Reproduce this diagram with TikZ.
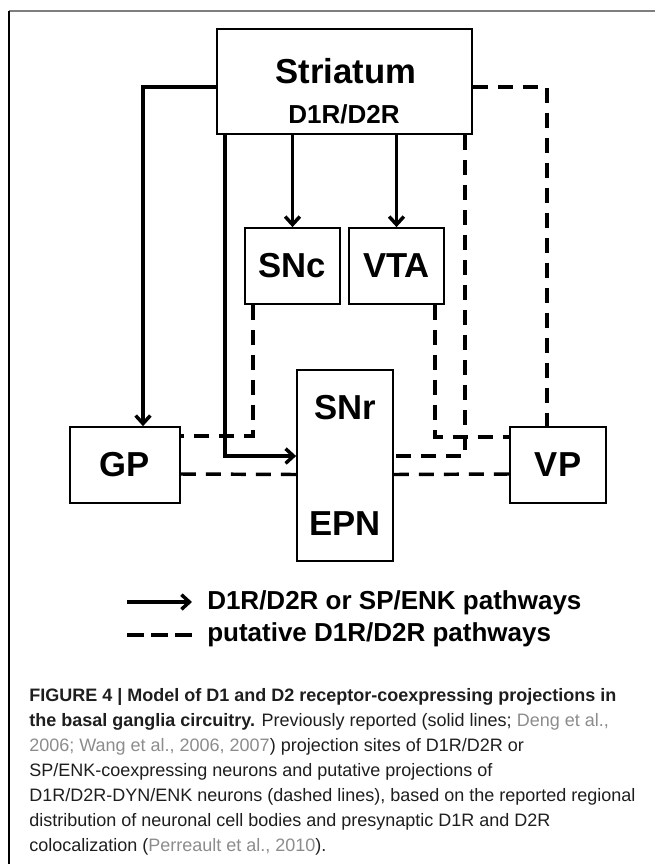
\documentclass[tikz,border=0pt]{standalone}
\usepackage{fontspec}
\setmainfont{Liberation Sans}
\usetikzlibrary{arrows.meta, positioning}

\definecolor{framegray}{HTML}{7F7F7F}
\definecolor{citegray}{HTML}{8C8C8C}
\definecolor{captext}{HTML}{1E1E1E}

\newcommand\boxfont{\fontsize{26}{31}\selectfont\bfseries}
\newcommand\subfont{\fontsize{19.5}{23}\selectfont\bfseries}
\newcommand\capfont{\fontsize{13.5}{18.75}\selectfont}
\newcommand\citeref[1]{\textcolor{citegray}{#1}}

\begin{document}
\begin{tikzpicture}[x=0.75pt,y=-0.75pt,
  >={Straight Barb[length=6pt,width=11pt]},
  region/.style={draw,line width=1.3pt,font=\boxfont,inner sep=0pt},
  proj/.style={line width=2.6pt},
  putative/.style={line width=2.6pt,dash pattern=on 11.25pt off 7.5pt},
  lbl/.style={inner sep=0pt,anchor=base}]

   \useasboundingbox (0,0) rectangle (655,864);
   \draw[framegray,line width=1.5pt] (9,10.5) -- (655,10.5);
   \draw[black,line width=0.8pt] (9,10.5) -- (9,864);

   \node[region,minimum width=191.25pt,minimum height=78.75pt] (striatum) at (344.5,81.5) {};
   \node[lbl,font=\boxfont] (striatumtxt) at (346,83) {Striatum};
   \node[lbl,font=\subfont] (striatumsub) at (344,123) {D1R/D2R};

   \node[region,minimum width=71.25pt,minimum height=57pt] (snc) at (292.5,266) {SNc};
   \node[region,minimum width=71.25pt,minimum height=57pt,on grid] (vta) [right=78pt of snc] {VTA};
   \node[region,minimum width=72pt,minimum height=143.25pt,align=center] (snr) at (345,465.5) {SNr\\[56pt]EPN};
   \node[region,minimum width=82.5pt,minimum height=57pt] (gp) at (125,465) {GP};
   \node[region,minimum width=72pt,minimum height=57pt] (vp) at (558,465) {VP};

   % solid projections
   \draw[proj,->] ([yshift=-4.1pt]striatum.west) -| ([xshift=13.5pt]gp.north);
   \draw[proj,->] ([xshift=6.75pt]striatum.south west) |- ([yshift=7.1pt]snr.west);
   \draw[proj,->] (striatum.south -| snc.north) -- (snc.north);
   \draw[proj,->] (striatum.south -| vta.north) -- (vta.north);

   % putative projections
   \draw[putative] ([yshift=-4.1pt]striatum.east) -| ([xshift=-8.25pt]vp.north);
   \draw[putative] ([xshift=-6pt]striatum.south east) |- ([yshift=7.1pt]snr.east);
   \draw[putative] ([xshift=6.75pt]snc.south west) |- ([yshift=21.75pt]gp.east);
   \draw[putative] ([xshift=-7.5pt]vta.south east) |- ([yshift=21pt]vp.west);
   \draw[putative] ([yshift=-6.75pt]gp.east) -- ([yshift=-6.75pt]snr.west);
   \draw[putative] ([yshift=-6.75pt]snr.east) -- ([yshift=-6.75pt]vp.west);

   % legend
   \node[lbl,anchor=base west,font=\subfont] (legsolid) at (207,609) {D1R/D2R or SP/ENK pathways};
   \node[lbl,anchor=base west,font=\subfont] (legdash) at (207,641) {putative D1R/D2R pathways};
   \draw[proj,->] ([xshift=-60pt,yshift=5.25pt]legsolid.base west) -- ([xshift=-11.25pt,yshift=5.25pt]legsolid.base west);
   \draw[line width=2.8pt,dash pattern=on 12.75pt off 5.25pt] ([xshift=-60pt,yshift=4.5pt]legdash.base west) -- ([xshift=-11.25pt,yshift=4.5pt]legdash.base west);

   % caption
   \node[anchor=base west,inner sep=0pt,align=left,font=\capfont,text=captext] (caption) at (29,851)
   {\textbf{FIGURE 4 | Model of D1 and D2 receptor-coexpressing projections in}\\
    \textbf{the basal ganglia circuitry.} Previously reported (solid lines; \citeref{Deng et al.,}\\
    \citeref{2006; Wang et al., 2006, 2007}) projection sites of D1R/D2R or\\
    SP/ENK-coexpressing neurons and putative projections of\\
    D1R/D2R-DYN/ENK neurons (dashed lines), based on the reported regional\\
    distribution of neuronal cell bodies and presynaptic D1R and D2R\\
    colocalization (\citeref{Perreault et al., 2010}).};
\end{tikzpicture}
\end{document}
